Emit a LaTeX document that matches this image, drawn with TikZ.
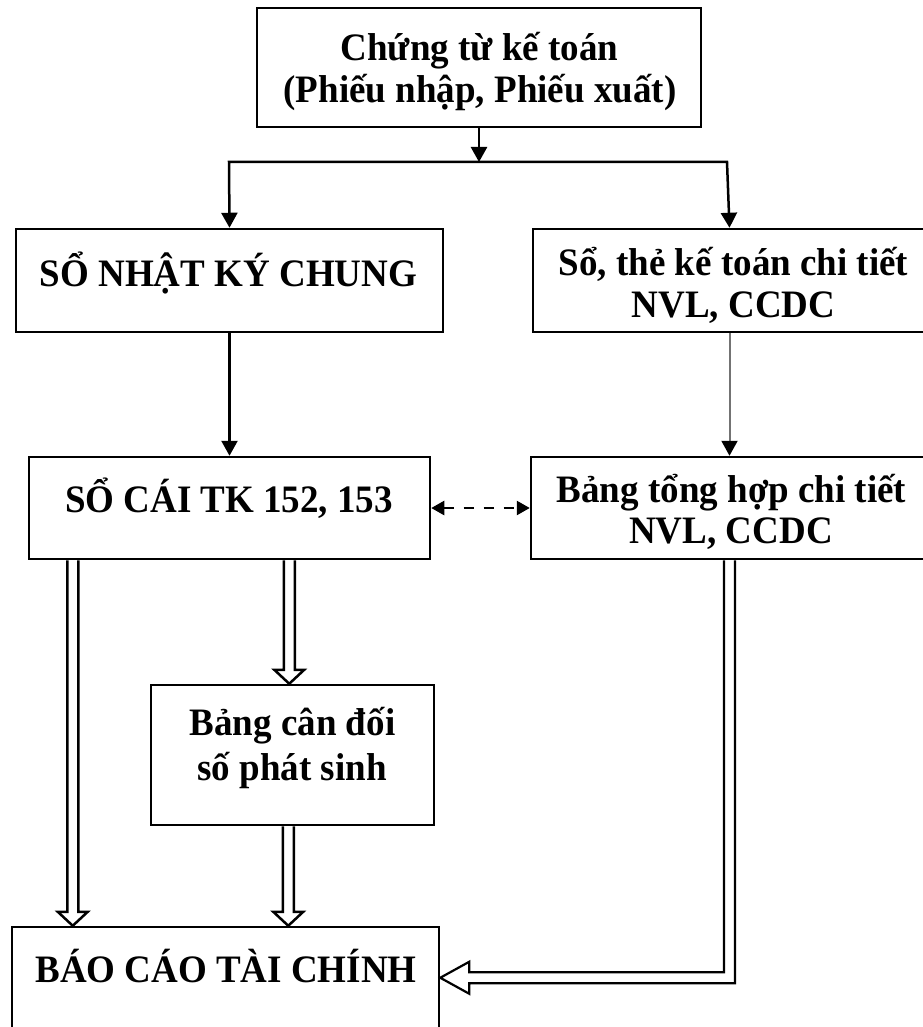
\documentclass[tikz,border=0pt]{standalone}
\usepackage{fontspec}
\setmainfont{Liberation Serif}
\usetikzlibrary{arrows.meta,calc}

% slightly tall lettering used in every box
\newcommand{\boxtext}[1]{\scalebox{1}[1.05]{#1}}

% block-outline arrow pointing down, from #1 to the tip at #2
\newcommand{\hollowdown}[2]{%
  \draw[hollow] let \p1=(#1), \p2=(#2) in
    (\x1-5.5pt,\y1) -- (\x1-5.5pt,\y2+14pt) -- (\x1-15pt,\y2+14pt) -- (\x1,\y2)
    -- (\x1+15pt,\y2+14pt) -- (\x1+5.5pt,\y2+14pt) -- (\x1+5.5pt,\y1);}

% block-outline arrow going down from #1, then left to the tip at #2
\newcommand{\hollowdownleft}[2]{%
  \draw[hollow, line width=2.2pt] let \p1=(#1), \p2=(#2) in
    (\x1+5.5pt,\y1) -- (\x1+5.5pt,\y2-5.5pt) -- (\x2+29pt,\y2-5.5pt)
    -- (\x2+29pt,\y2-16pt) -- (\x2,\y2) -- (\x2+29pt,\y2+16pt)
    -- (\x2+29pt,\y2+5.5pt) -- (\x1-5.5pt,\y2+5.5pt) -- (\x1-5.5pt,\y1);}

\begin{document}
\begin{tikzpicture}[x=1pt,y=-1pt,
  box/.style={draw, line width=2.5pt, inner sep=0pt},
  lbl/.style={anchor=base, inner sep=0pt, font=\fontsize{37}{42}\selectfont\bfseries},
  tip/.style={-{Triangle[length=15pt,width=16pt]}},
  flow/.style={line width=2.5pt, tip},
  thinflow/.style={line width=2pt, draw=black!55, -{Triangle[length=15pt,width=16pt,color=black,fill=black]}},
  link/.style={line width=2.5pt, dash pattern=on 10pt off 10pt,
    {Triangle[length=13pt,width=14pt]}-{Triangle[length=13pt,width=14pt]}},
  hollow/.style={line width=2.5pt, fill=white, line join=miter}]

\useasboundingbox (0,0) rectangle (922,1027);
\fill[white] (0,0) rectangle (922,1027);

% boxes
\node[box, minimum width=444pt, minimum height=119pt] (b0) at (479,67.5) {};
\node[box, minimum width=427pt, minimum height=103pt] (b1) at (229.5,280.5) {};
\node[box, minimum width=393pt, minimum height=103pt] (b2) at (729.5,280.5) {};
\node[box, minimum width=401pt, minimum height=102pt] (b3) at (229.5,508) {};
\node[box, minimum width=395pt, minimum height=102pt] (b4) at (728.5,508) {};
\node[box, minimum width=283pt, minimum height=140pt] (b5) at (292.5,755) {};
\node[box, minimum width=427pt, minimum height=108pt] (b6) at (225.5,981) {};

% texts
\node[lbl] (t0a) at (479.5,61) {\boxtext{Chứng từ kế toán}};
\node[lbl] (t0b) at (480,103) {\boxtext{(Phiếu nhập, Phiếu xuất)}};
\node[lbl] (t1) at (228.5,286) {\boxtext{SỔ NHẬT KÝ CHUNG}};
\node[lbl] (t2a) at (733.5,275) {\boxtext{Sổ, thẻ kế toán chi tiết}};
\node[lbl] (t2b) at (733.5,317) {\boxtext{NVL, CCDC}};
\node[lbl] (t3) at (229,512) {\boxtext{SỔ CÁI TK 152, 153}};
\node[lbl] (t4a) at (731.5,502) {\boxtext{Bảng tổng hợp chi tiết}};
\node[lbl] (t4b) at (731,543) {\boxtext{NVL, CCDC}};
\node[lbl] (t5a) at (292.5,735) {\boxtext{Bảng cân đối}};
\node[lbl] (t5b) at (292,780) {\boxtext{số phát sinh}};
\node[lbl] (t6) at (226,982) {\boxtext{BÁO CÁO TÀI CHÍNH}};

% split under the source documents
\coordinate (split) at (479,162);
\coordinate (jl) at (229,162);
\coordinate (jr) at (727,162);
\draw[flow] (b0.south) -- (split);
\draw[line width=2.5pt, line join=miter,
  {Triangle[length=15pt,width=16pt]}-{Triangle[length=15pt,width=16pt]}]
  (b1.north) -- (jl) -- (jr) -- (b2.north);

% ledger flows
\draw[flow] (b1.south) -- (b3.north);
\draw[thinflow] (b2.south) -- (b2.south |- b4.north);
\draw[link] (b3.east) -- (b4.west);

% outline arrows towards the reports
\coordinate (h1s) at ($(b3.south west)+(45,0)$);
\coordinate (h1e) at ($(b6.north west)+(62,0)$);
\coordinate (h2s) at ($(b3.south west)+(261.5,0)$);
\coordinate (h2e) at (b5.north);
\coordinate (h3s) at ($(b5.south west)+(138.5,0)$);
\coordinate (h3e) at ($(b6.north west)+(277.5,0)$);
\coordinate (h4s) at ($(b4.south)+(1,0)$);
\coordinate (h4e) at ($(b6.north east)+(0,52)$);
\hollowdown{h1s}{h1e}
\hollowdown{h2s}{h2e}
\hollowdown{h3s}{h3e}
\hollowdownleft{h4s}{h4e}
\end{tikzpicture}
\end{document}
